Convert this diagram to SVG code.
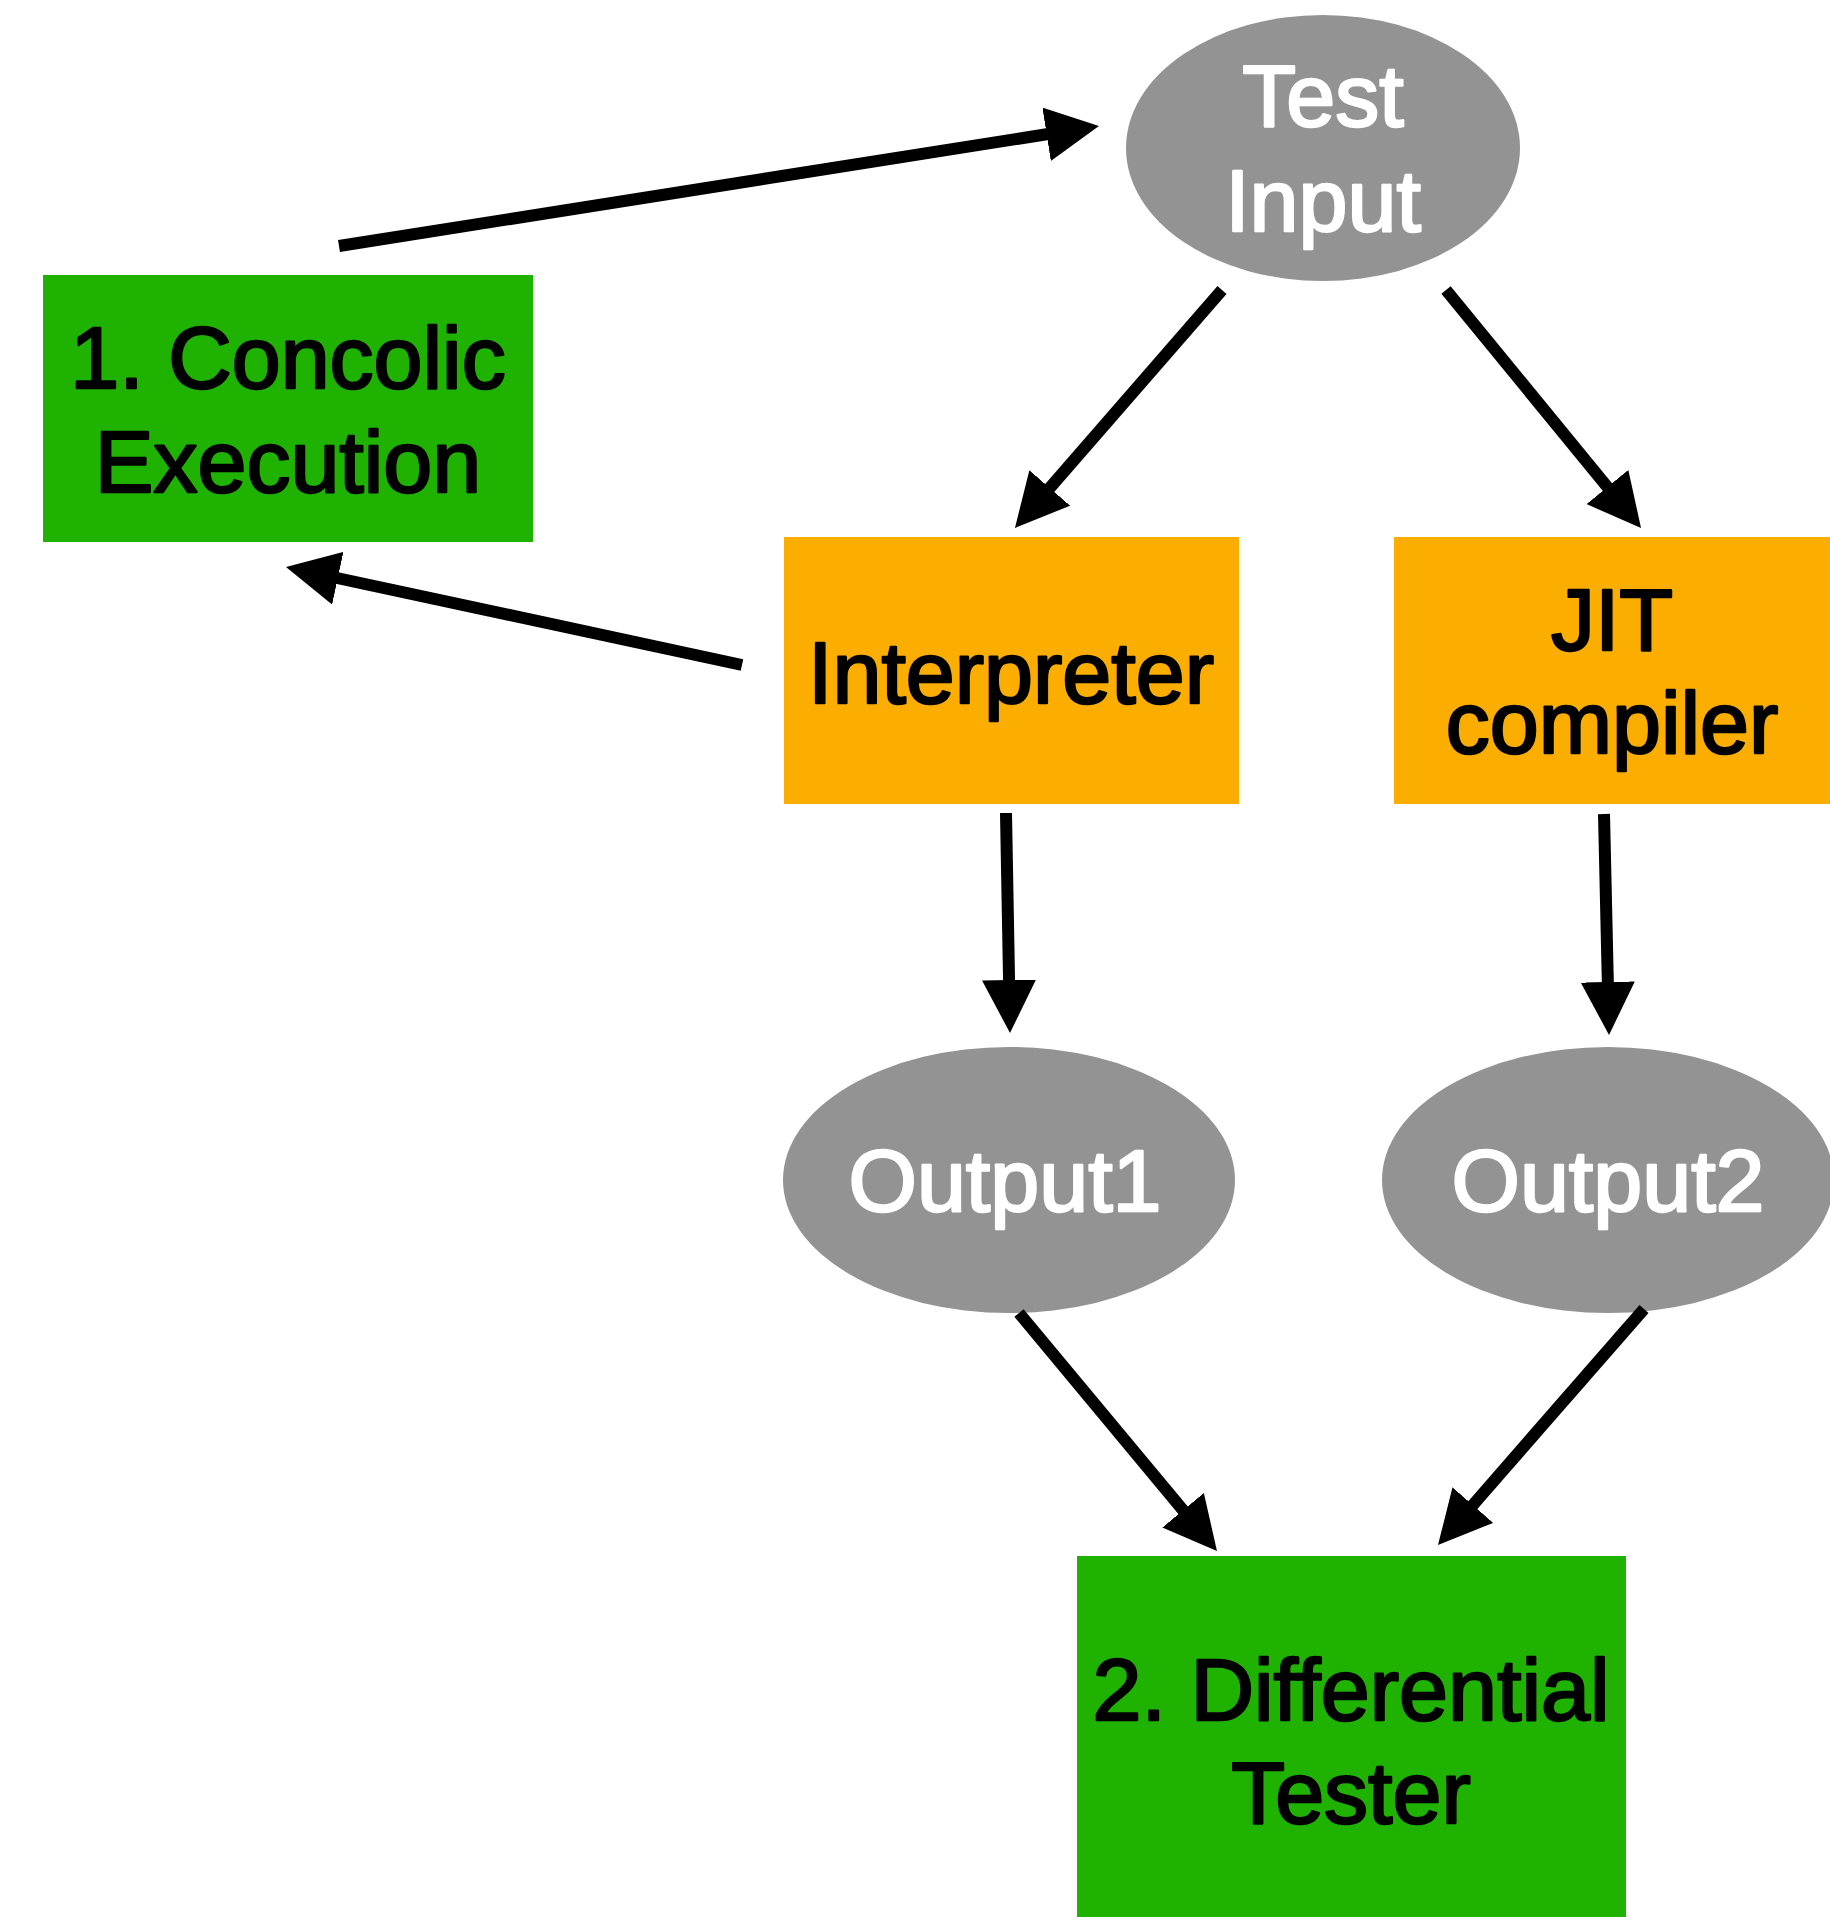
<svg xmlns="http://www.w3.org/2000/svg" width="1830" height="1917" viewBox="0 0 1830 1917">
<style>
.t{font-family:"Liberation Sans",Arial,Helvetica,sans-serif;font-size:88px;text-anchor:middle;stroke-width:2.5px;stroke-linejoin:round}
.dark{fill:#000;stroke:#000}
.light{fill:#fff;stroke:#fff}
.green{fill:#1fb200}
.orange{fill:#fcae00}
.gray{fill:#939393}
.edge{stroke:#000;stroke-width:12;fill:none;marker-end:url(#ah)}
</style>
<defs>
<marker id="ah" markerUnits="userSpaceOnUse" markerWidth="54" markerHeight="54" refX="8" refY="27" orient="auto" viewBox="0 0 54 54">
<path d="M0,0 L53,27 L0,54 Z" fill="#000"/>
</marker>
</defs>
<rect width="1830" height="1917" fill="#fff"/>
<g id="concolic">
<rect class="green" x="43" y="275" width="490" height="267"/>
<text class="t dark" x="288" y="388">1. Concolic</text>
<text class="t dark" x="288" y="492">Execution</text>
</g>
<g id="test-input">
<ellipse class="gray" cx="1323" cy="148" rx="197" ry="133"/>
<text class="t light" x="1323" y="126">Test</text>
<text class="t light" x="1323" y="231">Input</text>
</g>
<g id="interpreter">
<rect class="orange" x="784" y="537" width="455" height="267"/>
<text class="t dark" x="1011" y="703">Interpreter</text>
</g>
<g id="jit">
<rect class="orange" x="1394" y="537" width="436" height="267"/>
<text class="t dark" x="1612" y="650">JIT</text>
<text class="t dark" x="1612" y="753">compiler</text>
</g>
<g id="output1">
<ellipse class="gray" cx="1009" cy="1180" rx="226" ry="133"/>
<text class="t light" x="1005" y="1211">Output1</text>
</g>
<g id="output2">
<ellipse class="gray" cx="1608" cy="1180" rx="226" ry="133"/>
<text class="t light" x="1608" y="1211">Output2</text>
</g>
<g id="differential">
<rect class="green" x="1077" y="1556" width="549" height="361"/>
<text class="t dark" x="1351" y="1720">2. Differential</text>
<text class="t dark" x="1351" y="1823">Tester</text>
</g>
<g id="connectors">
<path class="edge" d="M339,246 L1054.5,133"/>
<path class="edge" d="M1222,290 L1044.5,494"/>
<path class="edge" d="M1446,290 L1612.5,493.2"/>
<path class="edge" d="M742,665 L330,576.5"/>
<path class="edge" d="M1006,813 L1009.2,988"/>
<path class="edge" d="M1604,814 L1608,990"/>
<path class="edge" d="M1019,1313 L1188.2,1516.4"/>
<path class="edge" d="M1644,1309 L1467.6,1511.1"/>
</g>
</svg>
